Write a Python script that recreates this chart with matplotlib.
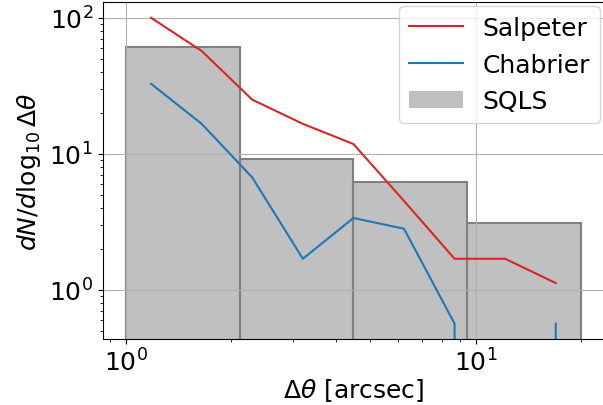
import numpy as np
import matplotlib
matplotlib.use("Agg")
import matplotlib.pyplot as plt

# Image separations: coarse bins for the survey, finer bins for the models
bin_edges_sqls = np.logspace(0, np.log10(20), 5)
bin_edges_model = np.logspace(0, np.log10(20), 10)

# dN/dlog10(Δθ) per bin
sqls = [61.5, 9.23, 6.15, 3.08]
salpeter = [100.0, 57.0, 25.0, 16.6, 11.8, 4.5, 1.69, 1.69, 1.12]
chabrier = [32.7, 16.6, 6.7, 1.69, 3.37, 2.81, 0.563, 0.0, 0.563]

plt.rcParams["font.size"] = 18

fig = plt.figure(figsize=(6.03, 4.06), dpi=100)
ax = fig.add_axes([0.1703, 0.1626, 0.831, 0.8293])

centers = np.sqrt(bin_edges_model[:-1] * bin_edges_model[1:])

ax.set_xscale("log")
ax.set_yscale("log")

ax.plot(centers, salpeter, color="tab:red", lw=1.5, label="Salpeter")
ax.plot(centers, chabrier, color="tab:blue", lw=1.5, label="Chabrier")
widths = np.diff(bin_edges_sqls)
ax.bar(bin_edges_sqls[:-1], sqls, width=widths, align="edge",
       color="silver", linewidth=0, label="SQLS")
ax.bar(bin_edges_sqls[:-1], sqls, width=widths, align="edge",
       fill=False, edgecolor="gray", linewidth=1.5)

ax.set_xlim(10 ** -0.066, 10 ** 1.366)
ax.set_ylim(10 ** -0.362, 10 ** 2.114)
ax.grid(True, which="major")

ax.set_xlabel(r"$\Delta\theta$ [arcsec]", labelpad=0)
ax.set_ylabel(r"$dN/d\log_{10}\Delta\theta$")

ax.legend(loc="upper right", borderaxespad=0.15, handlelength=2.15)

fig.savefig("out.png", dpi=100)
